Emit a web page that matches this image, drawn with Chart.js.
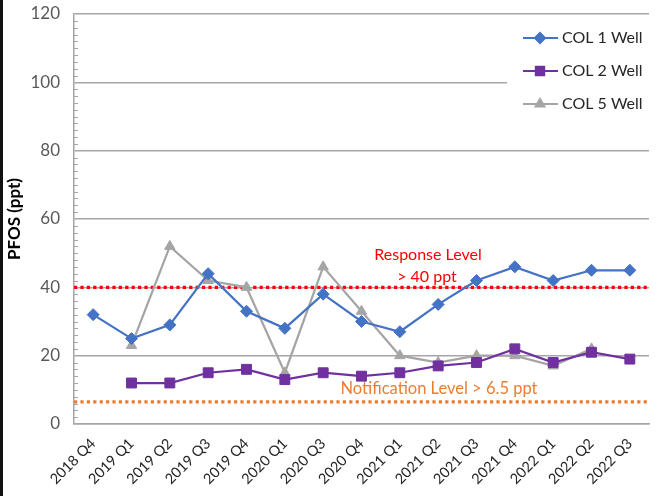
<!DOCTYPE html>
<html>
<head>
<meta charset="utf-8">
<script src="https://cdn.jsdelivr.net/npm/chart.js@4.4.1/dist/chart.umd.min.js"></script>
<style>
  html, body { margin: 0; padding: 0; background: #fff; }
  #wrap { position: relative; width: 657px; height: 496px; }
  #edge { position: absolute; left: 0; top: 0; width: 3px; height: 496px; background: #111; }
</style>
</head>
<body>
<div id="wrap">
  <canvas id="pfosChart"></canvas>
  <div id="edge"></div>
</div>
<script>
// 분기 라벨 (2020 Q2 없음)
const quarters = ['2018 Q4', '2019 Q1', '2019 Q2', '2019 Q3', '2019 Q4', '2020 Q1', '2020 Q3',
    '2020 Q4', '2021 Q1', '2021 Q2', '2021 Q3', '2021 Q4', '2022 Q1', '2022 Q2', '2022 Q3'];
const col1 = [32, 25, 29, 44, 33, 28, 38, 30, 27, 35, 42, 46, 42, 45, 45];
const col2 = [null, 12, 12, 15, 16, 13, 15, 14, 15, 17, 18, 22, 18, 21, 19];
const col5 = [null, 23, 52, 42, 40, 15, 46, 33, 20, 18, 20, 20, 17, 22, null];
const yTicks = [0, 20, 40, 60, 80, 100, 120];
const responseLevel = 40;
const notificationLevel = 6.5;

const FONT = 'Lato, "Open Sans", sans-serif';
const GRID = '#a6a6a6';

const extras = {
    id: 'extras',
    beforeDatasetsDraw(chart) {
        const {ctx, chartArea: a, scales: {y}} = chart;
        ctx.save();
        // 보조 눈금
        ctx.strokeStyle = GRID;
        ctx.lineWidth = 1;
        for (let v = 2; v < 120; v += 2) {
            if (v % 20 === 0) continue;
            const py = Math.round(y.getPixelForValue(v)) + 0.5;
            ctx.beginPath();
            ctx.moveTo(a.left, py);
            ctx.lineTo(a.left + 4, py);
            ctx.stroke();
        }
        // 기준선
        const dotted = (val, color) => {
            const py = y.getPixelForValue(val);
            ctx.strokeStyle = color;
            ctx.lineWidth = 3.2;
            ctx.setLineDash([3.2, 3.2]);
            ctx.beginPath();
            ctx.moveTo(a.left, py);
            ctx.lineTo(a.right, py);
            ctx.stroke();
            ctx.setLineDash([]);
        };
        dotted(responseLevel, '#ff0000');
        dotted(notificationLevel, '#ed7d31');

        ctx.font = '16px ' + FONT;
        ctx.textAlign = 'center';
        ctx.textBaseline = 'middle';
        ctx.fillStyle = '#ff0000';
        ctx.fillText('Response Level', 428, 255);
        ctx.fillText('> ' + responseLevel + ' ppt', 427, 277);
        ctx.fillStyle = '#ed7d31';
        ctx.font = '16.5px ' + FONT;
        ctx.fillText('Notification Level > ' + notificationLevel + ' ppt', 439, 389);
        ctx.restore();
    },
    afterDraw(chart) {
        const {ctx} = chart;
        ctx.save();
        ctx.fillStyle = '#fff';
        ctx.fillRect(507, 20, 150, 100);
        chart.data.datasets.forEach((ds, i) => {
            const cy = 38 + i * 33;
            ctx.strokeStyle = ds.borderColor;
            ctx.lineWidth = 2;
            ctx.beginPath();
            ctx.moveTo(523, cy);
            ctx.lineTo(558, cy);
            ctx.stroke();
            ctx.fillStyle = ds.pointBackgroundColor;
            ctx.strokeStyle = ds.pointBorderColor;
            Chart.helpers.drawPoint(ctx, {
                pointStyle: ds.pointStyle, radius: ds.pointRadius * 0.85, rotation: 0, borderWidth: 1,
            }, 540, cy);
            ctx.fillStyle = '#262626';
            ctx.font = '16px ' + FONT;
            ctx.textAlign = 'left';
            ctx.textBaseline = 'middle';
            ctx.fillText(ds.label, 562, cy);
        });
        ctx.restore();
    },
};

const series = (label, data, color, style, radius) => ({
    label,
    data,
    borderColor: color,
    backgroundColor: color,
    pointBackgroundColor: color,
    pointBorderColor: color,
    pointStyle: style,
    pointRadius: radius,
    pointHoverRadius: radius,
    pointBorderWidth: 1,
    borderWidth: 2.25,
    tension: 0,
    spanGaps: false,
});

new Chart(document.getElementById('pfosChart'), {
    type: 'line',
    data: {
        labels: quarters,
        datasets: [
            series('COL 1 Well', col1, '#4472c4', 'rectRot', 6),
            series('COL 2 Well', col2, '#7030a0', 'rect', 7),
            series('COL 5 Well', col5, '#a5a5a5', 'triangle', 6),
        ],
    },
    options: {
        responsive: true,
        maintainAspectRatio: false,
        animation: false,
        layout: {padding: {top: 14, right: 0, bottom: 0, left: 0}},
        plugins: {
            legend: {display: false},
            tooltip: {enabled: false},
        },
        scales: {
            x: {
                offset: true,
                grid: {display: false},
                border: {display: true, color: GRID, width: 1.5},
                ticks: {
                    autoSkip: false,
                    minRotation: 45,
                    maxRotation: 45,
                    color: '#262626',
                    font: {family: FONT, size: 14.5},
                    padding: 3,
                },
                afterFit: (scale) => {
                    scale.height = 72;
                    scale.paddingLeft = 0;
                    scale.paddingRight = 0;
                },
            },
            y: {
                min: 0,
                max: 120,
                afterBuildTicks: (scale) => { scale.ticks = yTicks.map((v) => ({value: v})); },
                grid: {color: GRID, lineWidth: 1.5, drawTicks: false},
                border: {display: true, color: GRID, width: 1.5},
                ticks: {
                    color: '#595959',
                    font: {family: FONT, size: 17},
                    padding: 14,
                },
                title: {
                    display: true,
                    text: 'PFOS (ppt)',
                    color: '#000',
                    font: {family: FONT, size: 17, weight: 'bold'},
                    padding: {top: 4, bottom: 0},
                },
                afterFit: (scale) => {
                    scale.width = 74;
                    scale.paddingTop = 0;
                    scale.paddingBottom = 0;
                },
            },
        },
    },
    plugins: [extras],
});
</script>
</body>
</html>
